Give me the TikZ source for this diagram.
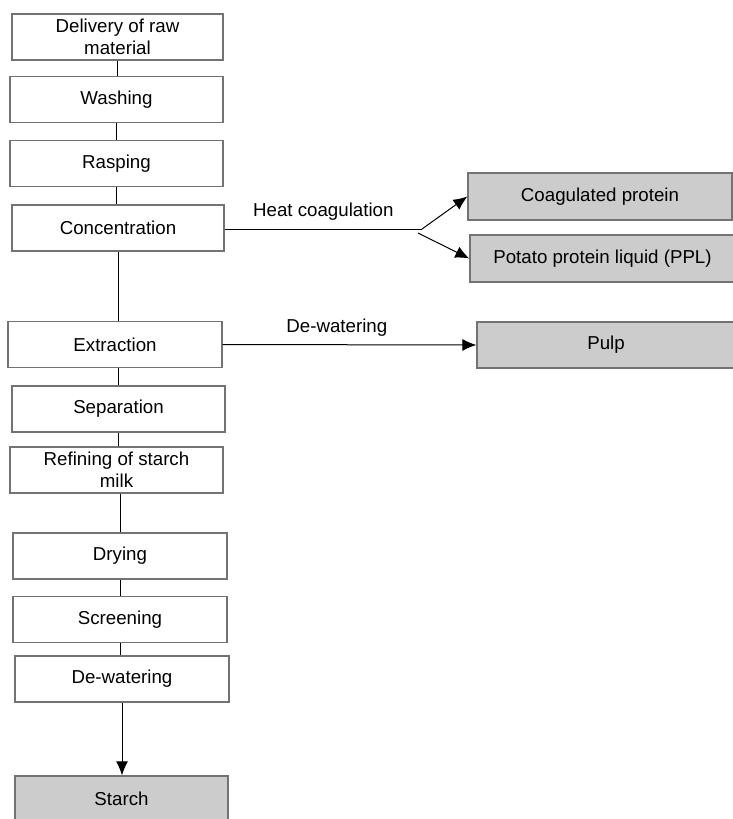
\documentclass[tikz,border=0pt]{standalone}
\usepackage{fontspec}
\setmainfont{Liberation Sans}
\usetikzlibrary{arrows.meta}
\tikzset{
  stepbox/.style={draw=black!55, line width=1.3pt, fill=white, minimum width=213pt,
    minimum height=46pt, align=center, inner sep=1pt},
  prodbox/.style={stepbox, fill=black!20},
  flow/.style={line width=1pt, black},
  >={Latex[length=14pt,width=12pt]}
}
\begin{document}
\begin{tikzpicture}[x=1pt,y=-1pt,font=\fontsize{18.7}{22}\selectfont]
        \clip (0,0) rectangle (733,819);
        \fill[white] (0,0) rectangle (733,819);
        %main line boxes
        \node[stepbox,minimum width=211pt] (del) at (117.5,37) {Delivery of raw\\material};
        \node[stepbox] (wash) at (116.5,99.5) {Washing};
        \node[stepbox] (rasp) at (116.5,163.5) {Rasping};
        \node[stepbox,minimum width=212pt] (conc) at (118,228) {Concentration};
        \node[stepbox,minimum width=214pt] (extr) at (115,344.5) {Extraction};
        \node[stepbox] (sep) at (118.5,409) {Separation};
        \node[stepbox] (refi) at (116.5,470) {Refining of starch\\milk};
        \node[stepbox,minimum width=214pt] (dry) at (120,556) {Drying};
        \node[stepbox,minimum width=214pt] (scr) at (120,619.5) {Screening};
        \node[stepbox,minimum width=214pt] (dew) at (122,679) {De-watering};
        %products
        \node[prodbox] (starch) at (121.5,799) {Starch};
        \node[prodbox,minimum width=264pt,minimum height=47pt] (coag) at (600,196.5) {Coagulated protein};
        \node[prodbox,minimum width=265pt,minimum height=47pt] (ppl) at (602.5,258.5) {Potato protein liquid (PPL)};
        \node[prodbox,minimum width=258pt] (pulp) at (606,345) {Pulp};
        %vertical connections
        \draw[flow](del.south)--(del.south |- wash.north);
        \draw[flow](wash.south)--(wash.south |- rasp.north);
        \draw[flow](rasp.south)--(rasp.south |- conc.north);
        \draw[flow](conc.south)--(conc.south |- extr.north);
        \draw[flow](sep.north |- extr.south)--(sep.north);
        \draw[flow](sep.south)--(sep.south |- refi.north);
        \draw[flow](dry.north |- refi.south)--(dry.north);
        \draw[flow](dry.south)--(dry.south |- scr.north);
        \draw[flow](scr.south)--(scr.south |- dew.north);
        \draw[flow,->](dew.south)--(dew.south |- starch.north);
        %side branches
        \coordinate (hc1) at (422,229);
        \coordinate (hc2) at (418,233);
        \draw[flow](conc.east |- hc1)--(hc1)node[midway,above=5pt]{Heat coagulation};
        \draw[flow,->](hc1)--(coag.west);
        \draw[flow,->](hc2)--(ppl.west);
        \draw[flow,->](extr.east)--(pulp.west)node[pos=0.45,above=5pt]{De-watering};
\end{tikzpicture}
\end{document}
